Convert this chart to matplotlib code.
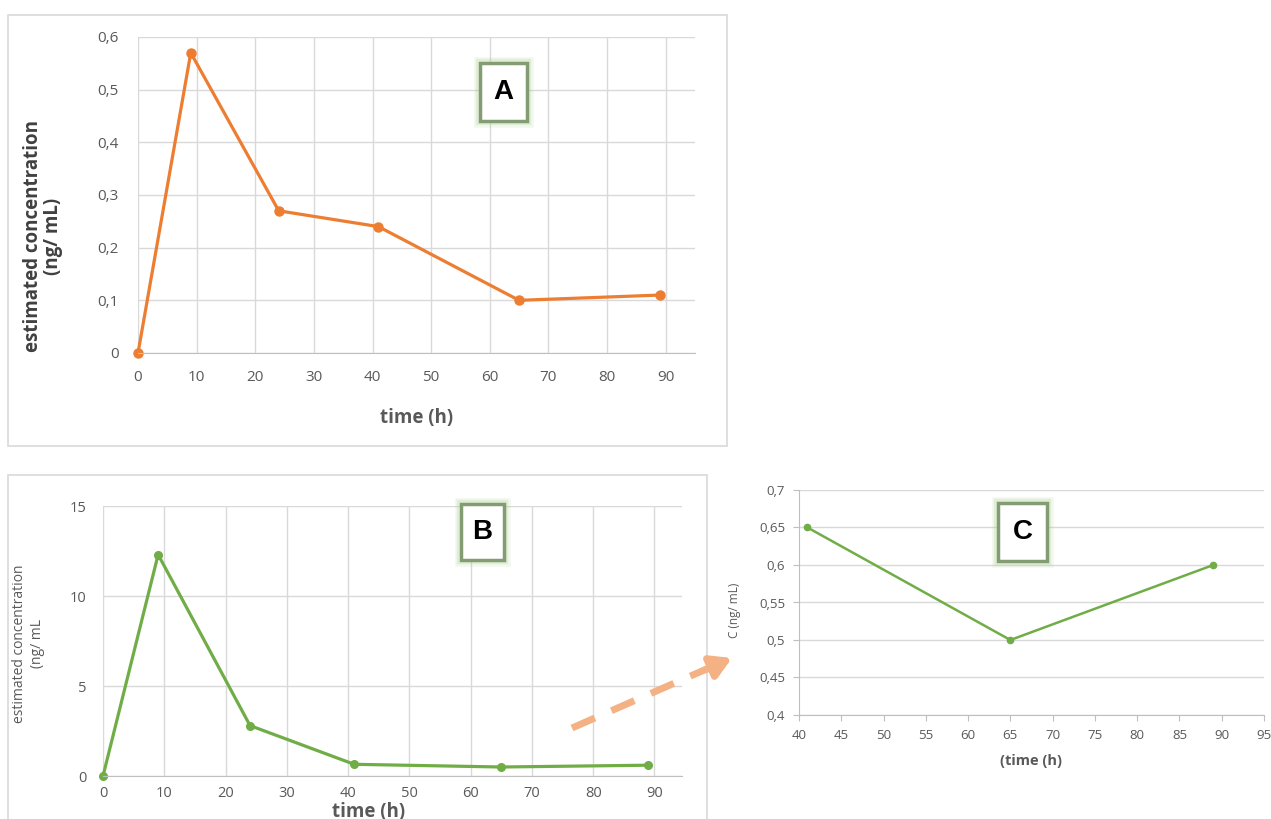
import matplotlib
matplotlib.use("Agg")
import matplotlib.pyplot as plt
from matplotlib.patches import Rectangle, FancyArrowPatch
from matplotlib.lines import Line2D
from matplotlib.ticker import FuncFormatter, MultipleLocator

# Sampling times and estimated concentrations
time_h = [0, 9, 24, 41, 65, 89]
conc_a = [0, 0.57, 0.27, 0.24, 0.10, 0.11]
conc_b = [0, 12.3, 2.8, 0.65, 0.5, 0.6]
time_c = [41, 65, 89]
conc_c = [0.65, 0.5, 0.6]

ORANGE = "#ED7D31"
GREEN = "#70AD47"
GRID = "#D9D9D9"
TXT = "#595959"

plt.rcParams["font.family"] = ["Open Sans", "DejaVu Sans"]

W, H = 1271, 819
fig = plt.figure(figsize=(W / 100, H / 100), dpi=100)


def box(x0, y0, x1, y1):
    # pixel box (top-left origin) -> figure fraction rect
    return [x0 / W, 1 - y1 / H, (x1 - x0) / W, (y1 - y0) / H]


def fpt(x, y):
    return (x / W, 1 - y / H)


comma = FuncFormatter(lambda v, p: f"{v:g}".replace(".", ","))

# outer chart frames
for x0, y0, x1, y1 in [(8, 15, 727, 446), (8, 475, 707, 830)]:
    fig.add_artist(Rectangle(fpt(x0, y1), (x1 - x0) / W, (y1 - y0) / H,
                             transform=fig.transFigure, fill=False,
                             edgecolor=GRID, linewidth=1.2))


def style(ax, xmax, ystep, ymax, vgrid=True):
    ax.set_xlim(0 if vgrid else 40, xmax)
    ax.set_ylim(0 if vgrid else 0.4, ymax)
    ax.yaxis.set_major_locator(MultipleLocator(ystep))
    ax.yaxis.set_major_formatter(comma)
    ax.grid(axis="y", color=GRID, linewidth=1)
    if vgrid:
        ax.set_xticks(range(0, 91, 10))
        ax.grid(axis="x", color=GRID, linewidth=1)
    for s in ax.spines.values():
        s.set_visible(False)
    ax.spines["bottom"].set_visible(True)
    ax.spines["bottom"].set_color("#BFBFBF")
    ax.set_axisbelow(True)


# ---- A ----
axA = fig.add_axes(box(138, 37, 695, 353))
style(axA, 95, 0.1, 0.6)
axA.tick_params(length=0, labelsize=11, labelcolor=TXT, pad=14)
axA.tick_params(axis="x", pad=12)
axA.plot(time_h, conc_a, color=ORANGE, linewidth=2.3, marker="o", markersize=6.5,
         clip_on=False)
axA.set_xlabel("time (h)", fontsize=13.5, fontweight="bold", color=TXT)
axA.xaxis.set_label_coords(0.5, -0.175)
axA.set_ylabel("estimated concentration\n(ng/ mL)", fontsize=13.5,
               fontweight="bold", color="#404040", linespacing=1.0)
axA.yaxis.set_label_coords(-0.135, 0.37)

# ---- B ----
axB = fig.add_axes(box(103, 506, 682, 776))
style(axB, 94.5, 5, 15)
axB.tick_params(length=0, labelsize=10.5, labelcolor=TXT, pad=12)
axB.tick_params(axis="x", pad=7)
axB.plot(time_h, conc_b, color=GREEN, linewidth=2.3, marker="o", markersize=5.5,
         clip_on=False)
axB.set_xlabel("time (h)", fontsize=13.5, fontweight="bold", color=TXT)
axB.xaxis.set_label_coords(0.458, -0.097)
axB.set_ylabel("estimated concentration\n(ng/ mL", fontsize=10,
               color=TXT, linespacing=1.3)
axB.yaxis.set_label_coords(-0.10, 0.49)

# ---- C ----
axC = fig.add_axes(box(799, 490, 1264, 715))
style(axC, 95, 0.05, 0.7, vgrid=False)
axC.xaxis.set_major_locator(MultipleLocator(5))
axC.spines["left"].set_visible(True)
axC.spines["left"].set_color("#BFBFBF")
axC.tick_params(length=4, color="#BFBFBF", labelsize=9.5, labelcolor=TXT, pad=6)
axC.plot(time_c, conc_c, color=GREEN, linewidth=1.8, marker="o", markersize=4.5)
axC.set_xlabel("(time (h)", fontsize=10.5, fontweight="bold", color=TXT)
axC.xaxis.set_label_coords(0.499, -0.175)
axC.set_ylabel("C (ng/ mL)", fontsize=8.5, color=TXT)
axC.yaxis.set_label_coords(-0.125, 0.467)

# ---- panel letters ----
for letter, (x0, y0, x1, y1) in [("A", (480, 63, 527, 121)),
                                 ("B", (461, 504, 504, 560)),
                                 ("C", (998, 503, 1047, 561))]:
    for lw, a in [(9, 0.15), (6, 0.25)]:
        fig.add_artist(Rectangle(fpt(x0, y1), (x1 - x0) / W, (y1 - y0) / H,
                                 transform=fig.transFigure, fill=False,
                                 edgecolor="#A9D18E", linewidth=lw, alpha=a))
    fig.add_artist(Rectangle(fpt(x0, y1), (x1 - x0) / W, (y1 - y0) / H,
                             transform=fig.transFigure, facecolor="white",
                             edgecolor="#849C74", linewidth=2.5))
    fig.text((x0 + x1) / 2 / W, 1 - (y0 + y1) / 2 / H, letter, ha="center",
             va="center", fontsize=20, fontweight="bold", color="black",
             family=["Liberation Sans", "DejaVu Sans"])

# dashed arrow from B towards C
ARROW = "#F4B183"
(xs, ys), (xe, ye) = fpt(572, 728), fpt(718, 664)
fig.add_artist(Line2D([xs, xe], [ys, ye], transform=fig.transFigure, color=ARROW,
                      linewidth=5, linestyle=(0, (3.6, 2.6)), solid_capstyle="butt",
                      dash_capstyle="butt"))
fig.add_artist(FancyArrowPatch(fpt(705, 670), fpt(732, 658), transform=fig.transFigure,
                               arrowstyle="-|>,head_length=12,head_width=7",
                               color=ARROW, linewidth=5, mutation_scale=1,
                               shrinkA=0, shrinkB=0))

fig.savefig("out.png", dpi=100, facecolor="white")
